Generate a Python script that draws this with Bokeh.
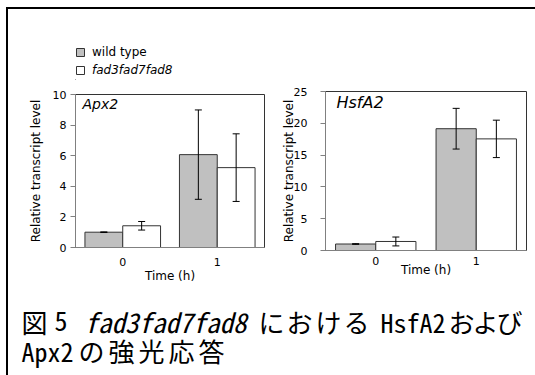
from bokeh.plotting import figure
from bokeh.models import (ColumnDataSource, FactorRange, Range1d, Whisker, Label,
                          Legend, LegendItem, FixedTicker, TeeHead, Div, Spacer)
from bokeh.transform import dodge
from bokeh.layouts import column, row
from bokeh.embed import file_html
from bokeh.resources import INLINE

# ---- data ----
times = ["0", "1"]
apx2_wt = [1.0, 6.07]
apx2_wt_err = [0.02, 2.92]
apx2_mut = [1.42, 5.22]
apx2_mut_err = [0.28, 2.21]
hsf_wt = [1.02, 19.15]
hsf_wt_err = [0.05, 3.2]
hsf_mut = [1.42, 17.55]
hsf_mut_err = [0.7, 2.94]
apx2_ticks = [0, 2, 4, 6, 8, 10]
hsf_ticks = [0, 5, 10, 15, 20, 25]
series_names = ["wild type", "fad3fad7fad8"]

AX_FONT = "DejaVu Sans"
WT_FILL = "#c0c0c0"
MUT_FILL = "#ffffff"
BAR_LINE = "#333333"


def blank(width, height, **kw):
    opts = dict(min_border=0)
    opts.update(kw)
    f = figure(width=width, height=height, output_backend="svg", toolbar_location=None,
               x_range=Range1d(0, 1), y_range=Range1d(0, 1),
               x_axis_location=None, y_axis_location=None, **opts)
    f.grid.visible = False
    f.outline_line_color = None
    return f


def make_panel(title, wt, wt_err, mut, mut_err, ymax, ticks, width, height,
               mb_left, mb_right, mb_top, mb_bottom, tick_standoff_x,
               xlab_standoff, y_tick_standoff, ylab_standoff, title_size, title_x):
    p = figure(x_range=FactorRange(*times, range_padding=0), y_range=Range1d(0, ymax),
               width=width, height=height, output_backend="svg", toolbar_location=None,
               min_border_left=mb_left, min_border_right=mb_right,
               min_border_top=mb_top, min_border_bottom=mb_bottom)
    src = ColumnDataSource(dict(
        time=times, wt=wt, mut=mut,
        wt_lo=[v - e for v, e in zip(wt, wt_err)], wt_hi=[v + e for v, e in zip(wt, wt_err)],
        mut_lo=[v - e for v, e in zip(mut, mut_err)], mut_hi=[v + e for v, e in zip(mut, mut_err)],
    ))
    p.vbar(x=dodge("time", -0.2, range=p.x_range), top="wt", width=0.4, source=src,
           fill_color=WT_FILL, line_color=BAR_LINE, line_width=1)
    p.vbar(x=dodge("time", 0.2, range=p.x_range), top="mut", width=0.4, source=src,
           fill_color=MUT_FILL, line_color=BAR_LINE, line_width=1)
    for off, lo, hi in [(-0.2, "wt_lo", "wt_hi"), (0.2, "mut_lo", "mut_hi")]:
        w = Whisker(base=dodge("time", off, range=p.x_range), lower=lo, upper=hi, source=src,
                    line_color="#000000", line_width=1, level="overlay",
                    upper_head=TeeHead(size=7, line_color="#000000", line_width=1),
                    lower_head=TeeHead(size=7, line_color="#000000", line_width=1))
        p.add_layout(w)
    p.xgrid.visible = False
    p.ygrid.visible = False
    p.outline_line_color = "#333333"
    p.outline_line_width = 1
    p.background_fill_color = "white"
    p.border_fill_color = "white"

    p.xaxis.axis_line_color = "#808080"
    p.xaxis.major_tick_line_color = None
    p.xaxis.minor_tick_line_color = None
    p.xaxis.major_label_text_font = AX_FONT
    p.xaxis.major_label_text_font_size = "11px"
    p.xaxis.major_label_text_color = "#000000"
    p.xaxis.major_label_standoff = tick_standoff_x
    p.xaxis.axis_label = "Time (h)"
    p.xaxis.axis_label_text_font = AX_FONT
    p.xaxis.axis_label_text_font_style = "normal"
    p.xaxis.axis_label_text_font_size = "12px"
    p.xaxis.axis_label_text_color = "#000000"
    p.xaxis.axis_label_standoff = xlab_standoff

    p.yaxis.ticker = FixedTicker(ticks=ticks)
    p.yaxis.axis_line_color = "#808080"
    p.yaxis.major_tick_line_color = "#808080"
    p.yaxis.major_tick_out = 5
    p.yaxis.major_tick_in = 0
    p.yaxis.minor_tick_line_color = None
    p.yaxis.major_label_text_font = AX_FONT
    p.yaxis.major_label_text_font_size = "11px"
    p.yaxis.major_label_text_color = "#000000"
    p.yaxis.major_label_standoff = y_tick_standoff
    p.yaxis.axis_label = "Relative transcript level"
    p.yaxis.axis_label_text_font = AX_FONT
    p.yaxis.axis_label_text_font_style = "normal"
    p.yaxis.axis_label_text_font_size = "12px"
    p.yaxis.axis_label_text_color = "#000000"
    p.yaxis.axis_label_standoff = ylab_standoff

    p.add_layout(Label(x=title_x, y=ymax, x_units="screen", y_units="data", text=title,
                       text_font=AX_FONT, text_font_style="italic",
                       text_font_size=title_size, text_baseline="top", y_offset=-1,
                       text_color="#000000"))
    return p


# left panel: page x 8..270, y 85..290 ; frame 75..264 x 94..247
p1 = make_panel("Apx2", apx2_wt, apx2_wt_err, apx2_mut, apx2_mut_err, 10,
                apx2_ticks, 262, 205, 67, 6, 9, 43, 4, 0, 4, 7, "14px", 7)
# right panel: page x 270..529, y 9..290 ; frame 325..526 x 91..250
p2 = make_panel("HsfA2", hsf_wt, hsf_wt_err, hsf_mut, hsf_mut_err, 25,
                hsf_ticks, 259, 281, 55, 3, 82, 40, 0, -5, 13, -5, "16px", 11)

# ---- legend strip above the left panel (page x 8..270, y 9..85) ----
leg_fig = blank(262, 76, min_border_left=67, min_border_right=0,
                min_border_top=34, min_border_bottom=6)
swatch_src = ColumnDataSource(dict(x=[-5.0], top=[0.0]))   # off-range, legend swatch only
lr_wt = leg_fig.vbar(x="x", top="top", width=0.1, source=swatch_src,
                     fill_color=WT_FILL, line_color=BAR_LINE)
lr_mut = leg_fig.vbar(x="x", top="top", width=0.1, source=swatch_src,
                      fill_color=MUT_FILL, line_color=BAR_LINE)
for name, rend, style, loc in [(series_names[0], lr_wt, "normal", "top_left"),
                               (series_names[1], lr_mut, "italic", "bottom_left")]:
    leg_fig.add_layout(Legend(items=[LegendItem(label=name, renderers=[rend])],
                              location=loc, padding=0, margin=0, spacing=0,
                              glyph_width=10, glyph_height=10, label_height=18,
                              label_standoff=7, border_line_color=None,
                              background_fill_alpha=0, label_text_font=AX_FONT,
                              label_text_font_style=style, label_text_font_size="12px",
                              label_text_color="#000000"))

# ---- caption (page x 8..529, y 290..375) ----
p3 = blank(521, 85)
CAP = "Noto Sans Mono CJK JP"
L1, L2 = 54, 25
segments = [
    ("図", "normal", 13, L1, "26px"),
    ("5", "normal", 46, L1, "26px"),
    ("fad3fad7fad8", "italic", 76, L1, "27px"),
    ("に", "normal", 250, L1, "26px"), ("お", "normal", 278, L1, "26px"),
    ("け", "normal", 307, L1, "26px"), ("る", "normal", 335, L1, "26px"),
    ("HsfA2", "normal", 372, L1, "26px"),
    ("お", "normal", 440, L1, "26px"), ("よ", "normal", 464, L1, "26px"),
    ("び", "normal", 488, L1, "26px"),
    ("Apx2", "normal", 13, L2, "26px"),
    ("の", "normal", 70, L2, "26px"), ("強", "normal", 100, L2, "26px"),
    ("光", "normal", 130, L2, "26px"), ("応", "normal", 160, L2, "26px"),
    ("答", "normal", 190, L2, "26px"),
]
for txt, style, sx, sy, fs in segments:
    p3.add_layout(Label(x=sx, y=sy, x_units="screen", y_units="screen", text=txt,
                        text_font=CAP, text_font_style=style,
                        text_font_size=fs, text_baseline="alphabetic",
                        text_color="#000000"))

top_bar = Div(width=529, height=2, margin=0, styles={"background-color": "#000000"})
left_bar = Div(width=2, height=366, margin=0, styles={"background-color": "#000000"})

inner = column(row(column(leg_fig, p1), p2), p3)
framed = column(top_bar, row(left_bar, inner))
layout = column(Spacer(height=7, margin=0), row(Spacer(width=6, margin=0), framed))

open("out.html", "w").write(file_html(layout, INLINE))
